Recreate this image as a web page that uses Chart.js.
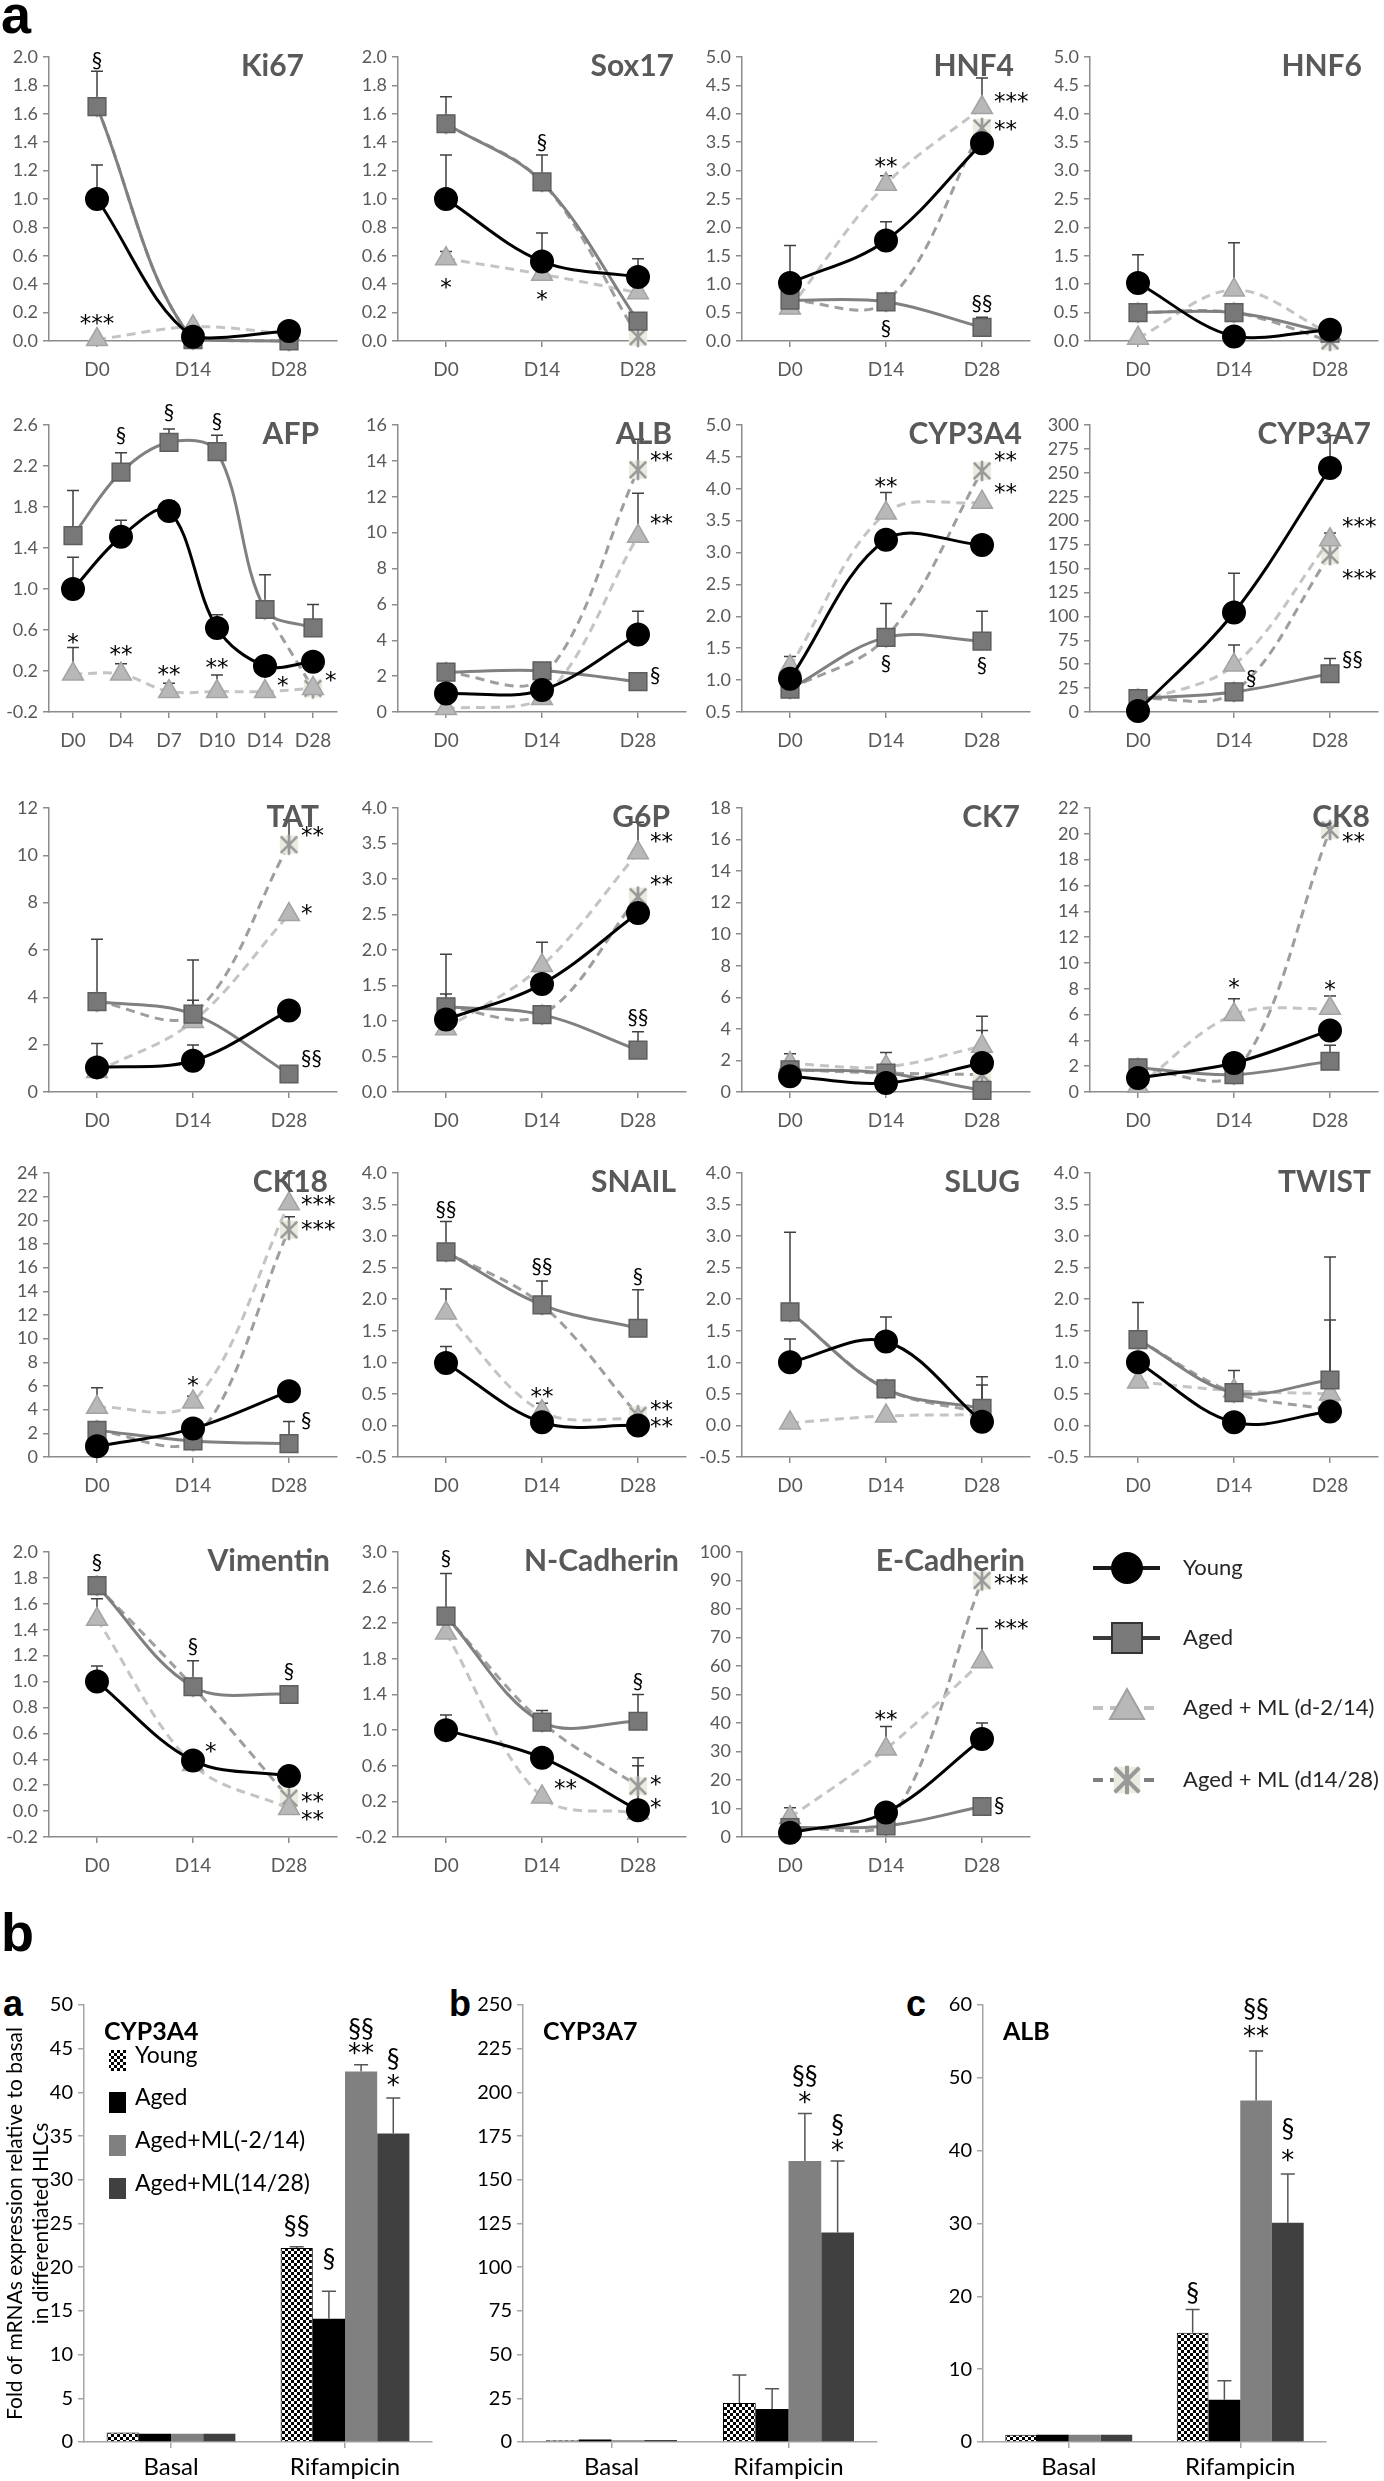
<!DOCTYPE html>
<html>
<head>
<meta charset="utf-8">
<title>Hepatic markers</title>
<script src="https://cdn.jsdelivr.net/npm/chart.js@4.4.1/dist/chart.umd.min.js"></script>
<style>
  html, body { margin: 0; padding: 0; background: #fff; }
  body { position: relative; width: 1384px; height: 2481px; overflow: hidden; }
  canvas { position: absolute; }
  .panel { position: absolute; font-family: "Liberation Sans", Arial, sans-serif; font-weight: bold; line-height: 1; color: #000; }
</style>
</head>
<body>
<div class="panel" style="left:1px;top:-13px;font-size:54px">a</div>
<div class="panel" style="left:1px;top:1905px;font-size:54px">b</div>
<div class="panel" style="left:3px;top:1986px;font-size:36px">a</div>
<div class="panel" style="left:449px;top:1986px;font-size:36px">b</div>
<div class="panel" style="left:906px;top:1986px;font-size:36px">c</div>
<script>
const FONT = 'Lato, "Open Sans", sans-serif';
const STAR_FONT = '"DejaVu Sans", sans-serif';
Chart.defaults.font.family = FONT;

// ---- data: panel a (series order: Young, Aged, Aged+ML d-2/14, Aged+ML d14/28)
const days = ['D0', 'D14', 'D28'];
const afpDays = ['D0', 'D4', 'D7', 'D10', 'D14', 'D28'];
const groups = ['Young', 'Aged', 'Aged + ML (d-2/14)', 'Aged + ML (d14/28)'];

// axis = [min, max, step]; marks = [series, point, y, text, 'r' = right of point]
const ki67Axis = [0, 2, 0.2];
const ki67 = [[1.0, 0.03, 0.07], [1.65, 0.01, 0.0], [0.01, 0.1, 0.05], [1.65, 0.01, 0.0]];
const ki67Err = [[0.24, 0, 0], [0.25, 0, 0], [0, 0, 0], [0, 0, 0]];
const ki67Marks = [[1, 0, 1.98, '§'], [2, 0, 0.15, '***']];

const sox17Axis = [0, 2, 0.2];
const sox17 = [[1.0, 0.56, 0.45], [1.53, 1.12, 0.14], [0.58, 0.47, 0.34], [1.53, 1.12, 0.03]];
const sox17Err = [[0.31, 0.2, 0.13], [0.19, 0.19, 0], [0.05, 0, 0], [0, 0, 0]];
const sox17Marks = [[1, 1, 1.4, '§'], [2, 0, 0.4, '*'], [2, 1, 0.32, '*']];

const hnf4Axis = [0, 5, 0.5];
const hnf4 = [[1.02, 1.77, 3.48], [0.72, 0.69, 0.24], [0.58, 2.76, 4.11], [0.72, 0.69, 3.75]];
const hnf4Err = [[0.66, 0.33, 0], [0, 0, 0.18], [0, 0.15, 0.52], [0, 0, 0]];
const hnf4Marks = [[2, 1, 3.13, '**'], [2, 2, 4.28, '***', 'r'], [3, 2, 3.78, '**', 'r'], [1, 1, 0.22, '§'], [1, 2, 0.66, '§§']];

const hnf6Axis = [0, 5, 0.5];
const hnf6 = [[1.02, 0.08, 0.2], [0.5, 0.5, 0.14], [0.05, 0.9, 0.13], [0.5, 0.5, 0.0]];
const hnf6Err = [[0.5, 0, 0], [0, 0, 0], [0, 0.83, 0], [0, 0, 0]];
const hnf6Marks = [];

const afpAxis = [-0.2, 2.6, 0.4];
const afp = [[1.0, 1.51, 1.76, 0.62, 0.25, 0.29], [1.52, 2.14, 2.43, 2.34, 0.8, 0.62],
             [0.17, 0.17, 0.0, 0.0, 0.0, 0.03], [null, null, null, null, 0.8, 0.03]];
const afpErr = [[0.31, 0.16, 0.1, 0.13, 0, 0], [0.44, 0.19, 0.13, 0.16, 0.34, 0.23],
                [0.26, 0.1, 0.08, 0.16, 0, 0], [0, 0, 0, 0, 0, 0]];
const afpMarks = [[1, 1, 2.5, '§'], [1, 2, 2.72, '§'], [1, 3, 2.64, '§'], [2, 0, 0.51, '*'], [2, 1, 0.39, '**'],
                  [2, 2, 0.2, '**'], [2, 3, 0.27, '**'], [2, 4, 0.09, '*', 'r'], [2, 5, 0.14, '*', 'r']];

const albAxis = [0, 16, 2];
const alb = [[1.03, 1.22, 4.32], [2.22, 2.3, 1.69], [0.19, 0.75, 9.8], [2.22, 1.9, 13.5]];
const albErr = [[0, 0, 1.3], [0, 0, 0], [0, 0, 2.4], [0, 0, 1.7]];
const albMarks = [[3, 2, 14.2, '**', 'r'], [2, 2, 10.7, '**', 'r'], [1, 2, 2.07, '§', 'r']];

const cyp3a4Axis = [0.5, 5, 0.5];
const cyp3a4 = [[1.02, 3.2, 3.12], [0.86, 1.67, 1.61], [1.21, 3.62, 3.79], [0.86, 1.67, 4.28]];
const cyp3a4Err = [[0.35, 0, 0], [0, 0.53, 0.47], [0, 0.32, 0], [0, 0, 0]];
const cyp3a4Marks = [[2, 1, 4.09, '**'], [3, 2, 4.49, '**', 'r'], [2, 2, 3.99, '**', 'r'], [1, 1, 1.27, '§'], [1, 2, 1.24, '§']];

const cyp3a7Axis = [0, 300, 25];
const cyp3a7 = [[1, 104, 255], [14, 21, 40], [10, 49, 180], [14, 21, 164]];
const cyp3a7Err = [[0, 41, 34], [0, 0, 16], [0, 21, 7], [0, 0, 0]];
const cyp3a7Marks = [[2, 2, 198, '***', 'r'], [3, 2, 143, '***', 'r'], [1, 1, 35, '§', 'r'], [1, 2, 55, '§§', 'r']];

const tatAxis = [0, 12, 2];
const tat = [[1.04, 1.32, 3.44], [3.82, 3.29, 0.76], [0.87, 2.98, 7.5], [3.82, 3.29, 10.45]];
const tatErr = [[1.01, 0.67, 0], [2.63, 2.29, 0], [0, 0.9, 0], [0, 0, 1.05]];
const tatMarks = [[3, 2, 11.0, '**', 'r'], [2, 2, 7.7, '*', 'r'], [1, 2, 1.43, '§§', 'r']];

const g6pAxis = [0, 4, 0.5];
const g6p = [[1.02, 1.52, 2.52], [1.2, 1.09, 0.59], [0.89, 1.78, 3.37], [1.2, 1.09, 2.75]];
const g6pErr = [[0.36, 0.59, 0], [0.74, 0, 0.26], [0, 0, 0.43], [0, 0, 0]];
const g6pMarks = [[2, 2, 3.57, '**', 'r'], [3, 2, 2.97, '**', 'r'], [1, 2, 1.05, '§§']];

const ck7Axis = [0, 18, 2];
const ck7 = [[1.0, 0.57, 1.84], [1.41, 1.2, 0.1], [1.8, 1.6, 2.9], [1.41, 1.2, 1.1]];
const ck7Err = [[0, 0, 0], [0, 0, 0], [0.63, 0.9, 1.9], [0, 0, 2.8]];
const ck7Marks = [];

const ck8Axis = [0, 22, 2];
const ck8 = [[1.09, 2.25, 4.77], [1.87, 1.35, 2.38], [0.44, 6.0, 6.48], [1.87, 1.35, 20.3]];
const ck8Err = [[0, 0, 0], [0, 0, 1.25], [0, 1.23, 0.96], [0, 0, 0]];
const ck8Marks = [[2, 1, 8.34, '*'], [2, 2, 8.2, '*'], [3, 2, 19.7, '**', 'r']];

const ck18Axis = [0, 24, 2];
const ck18 = [[0.9, 2.4, 5.55], [2.25, 1.35, 1.13], [4.2, 4.65, 21.4], [2.25, 1.35, 19.2]];
const ck18Err = [[0, 0, 0], [0, 0, 1.87], [1.66, 0.48, 2.6], [0, 0, 1.1]];
const ck18Marks = [[2, 2, 21.6, '***', 'r'], [3, 2, 19.5, '***', 'r'], [2, 1, 6.3, '*'], [1, 2, 3.1, '§', 'r']];

const snailAxis = [-0.5, 4, 0.5];
const snail = [[0.99, 0.05, 0.0], [2.75, 1.91, 1.54], [1.78, 0.22, 0.1], [2.75, 1.91, 0.16]];
const snailErr = [[0.26, 0, 0], [0.48, 0.38, 0.61], [0.38, 0.13, 0], [0, 0, 0]];
const snailMarks = [[1, 0, 3.42, '§§'], [1, 1, 2.52, '§§'], [1, 2, 2.36, '§'], [2, 1, 0.51, '**'],
                    [3, 2, 0.31, '**', 'r'], [0, 2, 0.04, '**', 'r']];

const slugAxis = [-0.5, 4, 0.5];
const slug = [[1.0, 1.33, 0.06], [1.8, 0.58, 0.27], [0.04, 0.15, 0.17], [1.8, 0.58, 0.2]];
const slugErr = [[0.37, 0.39, 0], [1.26, 0, 0.5], [0, 0, 0], [0, 0, 0.44]];
const slugMarks = [];

const twistAxis = [-0.5, 4, 0.5];
const twist = [[1.0, 0.05, 0.22], [1.36, 0.52, 0.72], [0.69, 0.55, 0.5], [1.36, 0.52, 0.25]];
const twistErr = [[0, 0, 0], [0.59, 0.35, 1.95], [0, 0, 1.17], [0, 0, 0]];
const twistMarks = [];

const vimAxis = [-0.2, 2, 0.2];
const vim = [[1.0, 0.39, 0.27], [1.74, 0.96, 0.9], [1.48, 0.36, 0.02], [1.74, 0.96, 0.1]];
const vimErr = [[0.12, 0, 0], [0, 0.2, 0], [0.16, 0, 0], [0, 0, 0]];
const vimMarks = [[1, 0, 1.92, '§'], [1, 1, 1.27, '§'], [1, 2, 1.08, '§'], [0, 1, 0.49, '*', 'r'],
                  [3, 2, 0.1, '**', 'r'], [2, 2, -0.04, '**', 'r']];

const ncadAxis = [-0.2, 3, 0.4];
const ncad = [[1.0, 0.69, 0.1], [2.28, 1.09, 1.1], [2.09, 0.25, 0.07], [2.28, 1.09, 0.37]];
const ncadErr = [[0.17, 0, 0], [0.48, 0.13, 0.3], [0, 0, 0.53], [0, 0, 0.32]];
const ncadMarks = [[1, 0, 2.93, '§'], [1, 2, 1.55, '§'], [2, 1, 0.38, '**', 'r'], [3, 2, 0.43, '*', 'r'], [0, 2, 0.17, '*', 'r']];

const ecadAxis = [0, 100, 10];
const ecad = [[1.5, 8.6, 34.4], [3.3, 3.9, 10.7], [6.8, 30.9, 61.5], [3.3, 3.9, 90]];
const ecadErr = [[0, 0, 5.6], [0, 0, 0], [3.5, 7.9, 11.7], [0, 0, 0]];
const ecadMarks = [[3, 2, 90, '***', 'r'], [2, 2, 74.5, '***', 'r'], [2, 1, 42.6, '**'], [1, 2, 11.2, '§', 'r']];

// ---- data: panel b
const barCats = ['Basal', 'Rifampicin'];
const barGroups = ['Young', 'Aged', 'Aged+ML(-2/14)', 'Aged+ML(14/28)'];
const cyp3a4BarAxis = [0, 50, 5];
const cyp3a4Bars = [[1.1, 22.2], [0.95, 14.1], [0.95, 42.4], [0.95, 35.3]];
const cyp3a4BarErr = [[0, 0.15], [0, 3.15], [0, 0.75], [0, 4.05]];
const cyp3a4BarMarks = [[0, 1, 24.7, '§§'], [1, 1, 20.9, '§'], [2, 1, 47.2, '§§'], [2, 1, 44.9, '**'], [3, 1, 43.8, '§'], [3, 1, 41.3, '*']];
const cyp3a7BarAxis = [0, 250, 25];
const cyp3a7Bars = [[1, 22.3], [1.5, 18.9], [1, 160.7], [1.2, 119.8]];
const cyp3a7BarErr = [[0, 16], [0, 11.6], [0, 27.3], [0, 40.9]];
const cyp3a7BarMarks = [[2, 1, 209, '§§'], [2, 1, 196.6, '*'], [3, 1, 181, '§'], [3, 1, 169, '*']];
const albBarAxis = [0, 60, 10];
const albBars = [[1, 15], [1, 5.8], [1, 46.9], [1, 30.1]];
const albBarErr = [[0, 3.2], [0, 2.6], [0, 6.8], [0, 6.7]];
const albBarMarks = [[0, 1, 20.4, '§'], [2, 1, 59.3, '§§'], [2, 1, 56.3, '**'], [3, 1, 42.9, '§'], [3, 1, 39.2, '*']];

// ---- layout
const AXIS_X = [49, 398, 742, 1090];
const ROW_TOP = [57, 425, 808, 1173, 1552];
const ROW_BOT = [341, 712, 1092, 1457, 1837];
const PLOT_W = 288, PAD_T = 30, Y_W = 60, X_H = 48, PAD_R = 40;
const AXIS_GRAY = '#8c8c8c';

function starMarker(size) {
  const c = document.createElement('canvas');
  c.width = c.height = size;
  const g = c.getContext('2d');
  const m = size / 2, s = size * 0.34;
  g.fillStyle = '#ecebe0';
  g.fillRect(m - s - 1, m - s - 1, 2 * s + 2, 2 * s + 2);
  g.strokeStyle = '#999';
  g.lineWidth = size / 9;
  g.beginPath();
  g.moveTo(m - s, m - s); g.lineTo(m + s, m + s);
  g.moveTo(m + s, m - s); g.lineTo(m - s, m + s);
  g.moveTo(m, m - s - 2); g.lineTo(m, m + s + 2);
  g.stroke();
  return c;
}
const STAR = starMarker(24);

const lineStyles = [
  {borderColor: '#000', borderWidth: 3, pointStyle: 'circle', pointRadius: 10.5, pointBackgroundColor: '#000', pointBorderColor: '#000'},
  {borderColor: '#808080', borderWidth: 3, pointStyle: 'rect', pointRadius: 12.5, pointBackgroundColor: '#787878', pointBorderColor: '#5e5e5e', pointBorderWidth: 1.5},
  {borderColor: '#c4c4c4', borderWidth: 3, borderDash: [9, 6], pointStyle: 'triangle', pointRadius: 12, pointBackgroundColor: '#b8b8b8', pointBorderColor: '#a3a3a3', pointBorderWidth: 1.5},
  {borderColor: '#9e9e9e', borderWidth: 3, borderDash: [9, 6], pointStyle: STAR, pointRadius: 11}
];

const errorBars = {
  id: 'errorBars',
  beforeDatasetsDraw(chart, args, o) { if (!o.front) drawErrors(chart, o); },
  afterDatasetsDraw(chart, args, o) { if (o.front) drawErrors(chart, o); }
};
function drawErrors(chart, o) {
  const {ctx} = chart, ys = chart.scales.y;
  ctx.save();
  ctx.strokeStyle = o.color;
  ctx.lineWidth = o.width;
  o.errors.forEach((errs, d) => {
    const meta = chart.getDatasetMeta(d);
    errs.forEach((e, i) => {
      const v = chart.data.datasets[d].data[i];
      if (!e || v == null) return;
      const x = meta.data[i].x;
      const y0 = ys.getPixelForValue(v), y1 = ys.getPixelForValue(v + e);
      ctx.beginPath();
      ctx.moveTo(x, y0); ctx.lineTo(x, y1);
      ctx.moveTo(x - o.cap, y1); ctx.lineTo(x + o.cap, y1);
      ctx.stroke();
    });
  });
  ctx.restore();
}

const marks = {
  id: 'marks',
  afterDraw(chart, args, o) {
    const {ctx, chartArea} = chart, ys = chart.scales.y;
    ctx.save();
    if (o.title) {
      ctx.font = o.titleFont;
      ctx.fillStyle = o.titleColor;
      ctx.textBaseline = 'middle';
      ctx.textAlign = o.titleAlign;
      const tx = o.titleAlign === 'right' ? chartArea.right - o.inset : chartArea.left + o.inset;
      ctx.fillText(o.title, tx, chartArea.top + o.titleDy);
    }
    ctx.fillStyle = '#000';
    ctx.textBaseline = 'middle';
    o.list.forEach(([d, i, v, t, side]) => {
      const x = chart.getDatasetMeta(d).data[i].x;
      let y = ys.getPixelForValue(v);
      const star = t.includes('*');
      ctx.font = star ? o.starSize + 'px ' + STAR_FONT : o.size + 'px ' + FONT;
      if (star) y += o.starShift;
      ctx.textAlign = side === 'r' ? 'left' : 'center';
      ctx.fillText(t, side === 'r' ? x + 12 : x, y);
    });
    ctx.restore();
  }
};

function lineChart(row, col, title, inset, labels, values, errors, axis, list) {
  const cv = document.createElement('canvas');
  const plotH = ROW_BOT[row] - ROW_TOP[row];
  cv.width = Y_W + PLOT_W + PAD_R;
  cv.height = PAD_T + plotH + X_H;
  cv.style.left = (AXIS_X[col] - Y_W) + 'px';
  cv.style.top = (ROW_TOP[row] - PAD_T) + 'px';
  document.body.appendChild(cv);
  const [min, max, step] = axis;
  const dec = step < 1 ? 1 : 0;
  new Chart(cv, {
    type: 'line',
    data: {
      labels,
      datasets: values.map((v, d) => Object.assign({label: groups[d], data: v, tension: 0.35, clip: false, spanGaps: false}, lineStyles[d]))
    },
    plugins: [errorBars, marks],
    options: {
      responsive: false, animation: false, devicePixelRatio: 1,
      layout: {padding: {top: PAD_T, right: PAD_R, left: 0, bottom: 0}},
      plugins: {
        legend: {display: false}, tooltip: {enabled: false},
        errorBars: {errors, color: '#404040', width: 1.5, cap: 6, front: false},
        marks: {list, title, inset, titleFont: 'bold 30px ' + FONT, titleColor: '#595959', titleAlign: 'right', titleDy: 9,
                size: 21, starSize: 23, starShift: 5}
      },
      scales: {
        x: {
          type: 'category', offset: true,
          grid: {offset: false, drawOnChartArea: false, color: AXIS_GRAY, tickLength: 6, lineWidth: 1.5},
          border: {color: AXIS_GRAY, width: 1.5},
          ticks: {font: {size: 19}, color: '#595959', padding: 11, maxRotation: 0, autoSkip: false},
          afterFit: s => { s.height = X_H; }
        },
        y: {
          min, max,
          grid: {drawOnChartArea: false, color: AXIS_GRAY, tickLength: 6, lineWidth: 1.5},
          border: {color: AXIS_GRAY, width: 1.5},
          ticks: {stepSize: step, autoSkip: false, maxTicksLimit: 30, font: {size: 18}, color: '#595959', padding: 5,
                  callback: v => Number(v).toFixed(dec)},
          afterFit: s => { s.width = Y_W; }
        }
      }
    }
  });
}

// [title, title inset from the right edge, categories, values, errors, axis, marks]
const panels = [
  ['Ki67', 33, days, ki67, ki67Err, ki67Axis, ki67Marks],
  ['Sox17', 12, days, sox17, sox17Err, sox17Axis, sox17Marks],
  ['HNF4', 16, days, hnf4, hnf4Err, hnf4Axis, hnf4Marks],
  ['HNF6', 16, days, hnf6, hnf6Err, hnf6Axis, hnf6Marks],
  ['AFP', 18, afpDays, afp, afpErr, afpAxis, afpMarks],
  ['ALB', 14, days, alb, albErr, albAxis, albMarks],
  ['CYP3A4', 8, days, cyp3a4, cyp3a4Err, cyp3a4Axis, cyp3a4Marks],
  ['CYP3A7', 7, days, cyp3a7, cyp3a7Err, cyp3a7Axis, cyp3a7Marks],
  ['TAT', 18, days, tat, tatErr, tatAxis, tatMarks],
  ['G6P', 16, days, g6p, g6pErr, g6pAxis, g6pMarks],
  ['CK7', 10, days, ck7, ck7Err, ck7Axis, ck7Marks],
  ['CK8', 8, days, ck8, ck8Err, ck8Axis, ck8Marks],
  ['CK18', 9, days, ck18, ck18Err, ck18Axis, ck18Marks],
  ['SNAIL', 10, days, snail, snailErr, snailAxis, snailMarks],
  ['SLUG', 10, days, slug, slugErr, slugAxis, slugMarks],
  ['TWIST', 7, days, twist, twistErr, twistAxis, twistMarks],
  ['Vimentin', 7, days, vim, vimErr, vimAxis, vimMarks],
  ['N-Cadherin', 7, days, ncad, ncadErr, ncadAxis, ncadMarks],
  ['E-Cadherin', 5, days, ecad, ecadErr, ecadAxis, ecadMarks]
];
panels.forEach((p, k) => lineChart(Math.floor(k / 4), k % 4, ...p));

// legend of panel a
(function () {
  const cv = document.createElement('canvas');
  cv.width = 304; cv.height = 285;
  cv.style.left = '1080px'; cv.style.top = '1535px';
  document.body.appendChild(cv);
  const g = cv.getContext('2d');
  const rows = [33, 103, 173, 245];
  const lineCol = ['#1a1a1a', '#3a3a3a', '#c0c0c0', '#808080'];
  rows.forEach((y, d) => {
    g.save();
    g.strokeStyle = lineCol[d];
    g.lineWidth = 4;
    if (d >= 2) g.setLineDash([10, 7]);
    g.beginPath(); g.moveTo(13, y); g.lineTo(80, y); g.stroke();
    g.restore();
    const x = 47;
    g.save();
    if (d === 0) { g.fillStyle = '#000'; g.beginPath(); g.arc(x, y, 16, 0, Math.PI * 2); g.fill(); }
    if (d === 1) { g.fillStyle = '#7a7a7a'; g.strokeStyle = '#333'; g.lineWidth = 2; g.fillRect(x - 15, y - 15, 30, 30); g.strokeRect(x - 15, y - 15, 30, 30); }
    if (d === 2) {
      g.fillStyle = '#b8b8b8'; g.strokeStyle = '#a0a0a0'; g.lineWidth = 2;
      g.beginPath(); g.moveTo(x, y - 19); g.lineTo(x + 17, y + 11); g.lineTo(x - 17, y + 11); g.closePath(); g.fill(); g.stroke();
    }
    if (d === 3) { const s = starMarker(36); g.drawImage(s, x - 18, y - 18); }
    g.restore();
    g.fillStyle = '#262626';
    g.font = '22px ' + FONT;
    g.textBaseline = 'middle';
    g.fillText(groups[d], 103, y);
  });
})();

// ---- panel b
function checker() {
  const c = document.createElement('canvas');
  c.width = c.height = 6;
  const g = c.getContext('2d');
  g.fillStyle = '#fff'; g.fillRect(0, 0, 6, 6);
  g.fillStyle = '#000'; g.fillRect(0, 0, 3, 3); g.fillRect(3, 3, 3, 3);
  return g.createPattern(c, 'repeat');
}
const barFills = [checker(), '#000000', '#808080', '#404040'];

const barLegend = {
  id: 'barLegend',
  afterDraw(chart, args, o) {
    if (!o.show) return;
    const {ctx, chartArea} = chart;
    ctx.save();
    ctx.font = '23px ' + FONT;
    ctx.textBaseline = 'middle';
    [55, 97, 140, 183].forEach((dy, d) => {
      const y = chartArea.top + dy;
      ctx.fillStyle = barFills[d];
      ctx.fillRect(chartArea.left + 25, y - 10, 17, 21);
      ctx.fillStyle = '#000';
      ctx.fillText(barGroups[d], chartArea.left + 51, y - 4);
    });
    ctx.restore();
  }
};

function barChart(left, plotLeft, plotRight, title, values, errors, axis, list, withLegend) {
  const top = 2005, bottom = 2442, padT = 30, xh = 39, padR = 8;
  const cv = document.createElement('canvas');
  cv.width = plotRight - left + padR;
  cv.height = padT + (bottom - top) + xh;
  cv.style.left = left + 'px';
  cv.style.top = (top - padT) + 'px';
  document.body.appendChild(cv);
  const [min, max, step] = axis;
  const yw = plotLeft - left;
  new Chart(cv, {
    type: 'bar',
    data: {
      labels: barCats,
      datasets: values.map((v, d) => ({
        label: barGroups[d], data: v, backgroundColor: barFills[d],
        borderColor: d === 0 ? '#000' : barFills[d], borderWidth: d === 0 ? 1 : 0,
        categoryPercentage: 0.74, barPercentage: 1
      }))
    },
    plugins: [errorBars, marks, barLegend],
    options: {
      responsive: false, animation: false, devicePixelRatio: 1,
      layout: {padding: {top: padT, right: padR, left: 0, bottom: 0}},
      plugins: {
        legend: {display: false}, tooltip: {enabled: false},
        errorBars: {errors, color: '#555', width: 1.5, cap: 7, front: true},
        marks: {list, title, inset: 20, titleFont: 'bold 25px ' + FONT, titleColor: '#000', titleAlign: 'left', titleDy: 27,
                size: 26, starSize: 26, starShift: 6},
        barLegend: {show: withLegend}
      },
      scales: {
        x: {
          grid: {offset: false, drawOnChartArea: false, color: '#a6a6a6', tickLength: 6, lineWidth: 1.5},
          border: {color: '#a6a6a6', width: 1.5},
          ticks: {font: {size: 24}, color: '#000', padding: 5, maxRotation: 0},
          afterFit: s => { s.height = xh; }
        },
        y: {
          min, max,
          grid: {drawOnChartArea: false, color: '#a6a6a6', tickLength: 6, lineWidth: 1.5},
          border: {color: '#a6a6a6', width: 1.5},
          ticks: {stepSize: step, autoSkip: false, font: {size: 20}, color: '#000', padding: 5},
          title: withLegend ? {
            display: true, color: '#000', font: {size: 21},
            text: ['Fold of mRNAs expression relative to basal', 'in differentiated HLCs'],
            padding: {top: 3, bottom: 0}
          } : {display: false},
          afterFit: s => { s.width = yw; }
        }
      }
    }
  });
}

barChart(0, 84, 432, 'CYP3A4', cyp3a4Bars, cyp3a4BarErr, cyp3a4BarAxis, cyp3a4BarMarks, true);
barChart(460, 523, 877, 'CYP3A7', cyp3a7Bars, cyp3a7BarErr, cyp3a7BarAxis, cyp3a7BarMarks, false);
barChart(920, 983, 1326, 'ALB', albBars, albBarErr, albBarAxis, albBarMarks, false);
</script>
</body>
</html>
